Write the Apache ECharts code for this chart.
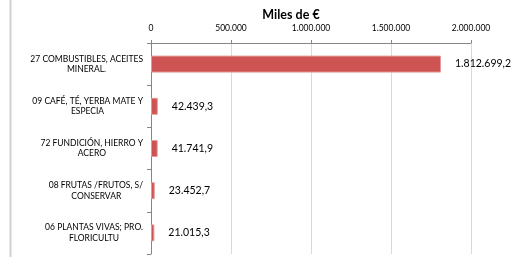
<!DOCTYPE html>
<html>
<head>
<meta charset="utf-8">
<script src="https://cdn.jsdelivr.net/npm/echarts@6/dist/echarts.min.js"></script>
<style>
  html, body { margin: 0; padding: 0; background: #fff; }
  #chart { width: 526px; height: 257px; }
</style>
</head>
<body>
<div id="chart"></div>
<script>
// capítulos y valores (miles de €)
const categories = [
  '27 COMBUSTIBLES, ACEITES\nMINERAL.',
  '09 CAFÉ, TÉ, YERBA MATE Y\nESPECIA',
  '72 FUNDICIÓN, HIERRO Y\nACERO',
  '08 FRUTAS /FRUTOS, S/\nCONSERVAR',
  '06 PLANTAS VIVAS; PRO.\nFLORICULTU'
]
const values = [1812699.2, 42439.3, 41741.9, 23452.7, 21015.3]
const axisTicks = [0, 500000, 1000000, 1500000, 2000000]

const LABEL_FONT = 8.5

// formato español: 1.812.699,2
const fmt = (v, dec) => {
  const parts = v.toFixed(dec).split('.')
  const ent = parts[0].replace(/\B(?=(\d{3})+(?!\d))/g, '.')
  return parts[1] ? ent + ',' + parts[1] : ent
}

// líneas centradas dentro de cada bloque (bloque alineado a la derecha):
// se rellenan las líneas cortas con espacios duros al final
const ctx = document.createElement('canvas').getContext('2d')
ctx.font = LABEL_FONT + 'px Lato'
const spaceW = ctx.measureText('\u00a0').width
const centerLines = txt => {
  const lines = txt.split('\n')
  const ws = lines.map(s => ctx.measureText(s).width)
  const wMax = Math.max(...ws)
  return lines.map((s, j) => s + '\u00a0'.repeat(Math.round((wMax - ws[j]) / 2 / spaceW))).join('\n')
}

const chart = echarts.init(document.getElementById('chart'))
chart.setOption({
  animation: false,
  textStyle: { fontFamily: 'Lato' },
  title: {
    text: 'Miles de €',
    left: 286,
    top: 3,
    textAlign: 'center',
    textStyle: { fontSize: 12.5, fontWeight: 'bold', color: '#000', fontFamily: 'Lato' }
  },
  graphic: [{
    type: 'line',
    shape: { x1: 10.5, y1: 0, x2: 10.5, y2: 257 },
    style: { stroke: '#d0d0d0', lineWidth: 2 }
  }],
  grid: { left: 151, right: 55, top: 43, bottom: 3 },
  xAxis: {
    type: 'value',
    position: 'top',
    min: axisTicks[0],
    max: axisTicks[axisTicks.length - 1],
    interval: axisTicks[1] - axisTicks[0],
    axisLine: { show: true, lineStyle: { color: '#868686' } },
    axisTick: { show: true, length: 3, lineStyle: { color: '#868686' } },
    axisLabel: {
      fontSize: 8.5, color: '#000', margin: 10,
      formatter: v => fmt(v, 0)
    },
    splitLine: { show: true, lineStyle: { color: '#d9d9d9' } }
  },
  yAxis: {
    type: 'category',
    inverse: true,
    data: categories,
    axisLine: { show: true, lineStyle: { color: '#868686' } },
    axisTick: { show: true, length: 4, lineStyle: { color: '#868686' } },
    axisLabel: {
      margin: 8,
      color: '#000',
      fontSize: LABEL_FONT,
      lineHeight: 10.5,
      formatter: v => centerLines(v)
    }
  },
  series: [{
    type: 'bar',
    data: values,
    barWidth: 17,
    itemStyle: { color: '#cd5452', borderColor: '#e59a98', borderWidth: 1 },
    label: {
      show: true,
      position: 'right',
      align: 'left',
      verticalAlign: 'middle',
      distance: 14,
      fontSize: 10.5,
      color: '#000',
      formatter: p => fmt(p.value, 1)
    }
  }]
})
</script>
</body>
</html>
